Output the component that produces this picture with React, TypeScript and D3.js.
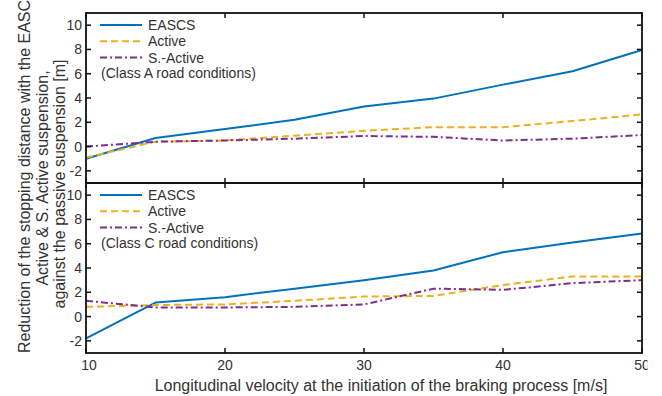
import React from "react";
import * as d3 from "d3";

// Longitudinal velocity at braking onset [m/s]
const velocities = [10, 15, 20, 25, 30, 35, 40, 45, 50];

// Class A road conditions
const eascsA = [-1.0, 0.7, 1.45, 2.2, 3.3, 3.95, 5.1, 6.2, 7.95];
const activeA = [-0.9, 0.4, 0.5, 0.9, 1.3, 1.6, 1.6, 2.1, 2.65];
const semiActiveA = [0.0, 0.4, 0.5, 0.65, 0.87, 0.8, 0.5, 0.65, 0.95];

// Class C road conditions
const eascsC = [-1.8, 1.15, 1.6, 2.3, 3.0, 3.8, 5.3, 6.1, 6.85];
const activeC = [0.8, 0.95, 1.0, 1.3, 1.65, 1.7, 2.6, 3.3, 3.3];
const semiActiveC = [1.3, 0.75, 0.75, 0.8, 1.0, 2.3, 2.2, 2.75, 3.0];

const xTicks = [10, 20, 30, 40, 50];
const yTicks = [-2, 0, 2, 4, 6, 8, 10];
const seriesNames = ["EASCS", "Active", "S.-Active"];
const roadLabels = ["(Class A road conditions)", "(Class C road conditions)"];

const W = 662;
const H = 396;
const left = 86;
const right = 642;
const panels = [
  { top: 13, bottom: 183, data: [eascsA, activeA, semiActiveA], label: roadLabels[0] },
  { top: 183, bottom: 353, data: [eascsC, activeC, semiActiveC], label: roadLabels[1] },
];

const colors = ["#0072BD", "#EDB120", "#7E2F8E"];
const dashes = ["none", "7 4", "7 3 2 3"];
const font = "'Liberation Sans', Arial, sans-serif";
const textColor = "#333";

export default function App() {
  const x = d3.scaleLinear().domain([10, 50]).range([left, right]);

  return (
    <svg
      width={W}
      height={H}
      style={{ position: "absolute", left: 0, top: 0, background: "#fff" }}
      fontFamily={font}
    >
      <defs>
        <clipPath id="page-clip">
          <rect x={0} y={0} width={647.5} height={H} />
        </clipPath>
      </defs>
      {panels.map((p, pi) => {
        const y = d3.scaleLinear().domain([-3, 11]).range([p.bottom, p.top]);
        const line = d3
          .line<number>()
          .x((_, i) => x(velocities[i]))
          .y((d) => y(d));
        return (
          <g key={pi}>
            {p.data.map((s, si) => (
              <path
                key={si}
                d={line(s) || ""}
                fill="none"
                stroke={colors[si]}
                strokeWidth={2}
                strokeDasharray={dashes[si]}
                strokeLinejoin="round"
              />
            ))}
            {/* ticks, inside the box on all four sides */}
            {yTicks.map((t) => (
              <g key={t}>
                <line x1={left} x2={left + 5} y1={y(t)} y2={y(t)} stroke="#111" strokeWidth={1.5} />
                <line x1={right - 5} x2={right} y1={y(t)} y2={y(t)} stroke="#111" strokeWidth={1.5} />
                <text
                  x={left - 4}
                  y={y(t)}
                  dy="0.36em"
                  textAnchor="end"
                  fontSize={14}
                  fill={textColor}
                >
                  {t}
                </text>
              </g>
            ))}
            {xTicks.map((t) => (
              <g key={t}>
                <line x1={x(t)} x2={x(t)} y1={p.top} y2={p.top + 5} stroke="#111" strokeWidth={1.5} />
                <line x1={x(t)} x2={x(t)} y1={p.bottom - 5} y2={p.bottom} stroke="#111" strokeWidth={1.5} />
              </g>
            ))}
            <rect
              x={left}
              y={p.top}
              width={right - left}
              height={p.bottom - p.top}
              fill="none"
              stroke="#111"
              strokeWidth={1.8}
            />
            {/* legend */}
            {seriesNames.map((n, si) => {
              const ly = p.top + 12 + si * 16.3;
              return (
                <g key={n}>
                  <line
                    x1={100}
                    x2={142}
                    y1={ly}
                    y2={ly}
                    stroke={colors[si]}
                    strokeWidth={2}
                    strokeDasharray={dashes[si]}
                  />
                  <text x={148} y={ly} dy="0.36em" fontSize={14} fill={textColor}>
                    {n}
                  </text>
                </g>
              );
            })}
            <text x={101} y={p.top + 12 + 3 * 16.3 - 1} dy="0.36em" fontSize={14} fill={textColor}>
              {p.label}
            </text>
          </g>
        );
      })}
      <g clipPath="url(#page-clip)">
        {xTicks.map((t) => (
          <text key={t} x={x(t) + (t === 10 ? 3 : 0)} y={370} textAnchor="middle" fontSize={14} fill={textColor}>
            {t}
          </text>
        ))}
      </g>
      <text x={381} y={391} textAnchor="middle" fontSize={16} fill={textColor}>
        Longitudinal velocity at the initiation of the braking process [m/s]
      </text>
      <text
        transform="translate(30,353) rotate(-90)"
        textAnchor="start"
        fontSize={16}
        fill={textColor}
      >
        Reduction of the stopping distance with the EASCS,
      </text>
      <text
        transform="translate(48,178) rotate(-90)"
        textAnchor="middle"
        fontSize={16}
        fill={textColor}
      >
        Active &amp; S. Active suspension,
      </text>
      <text
        transform="translate(65,184) rotate(-90)"
        textAnchor="middle"
        fontSize={16}
        fill={textColor}
      >
        against the passive suspension [m]
      </text>
    </svg>
  );
}
